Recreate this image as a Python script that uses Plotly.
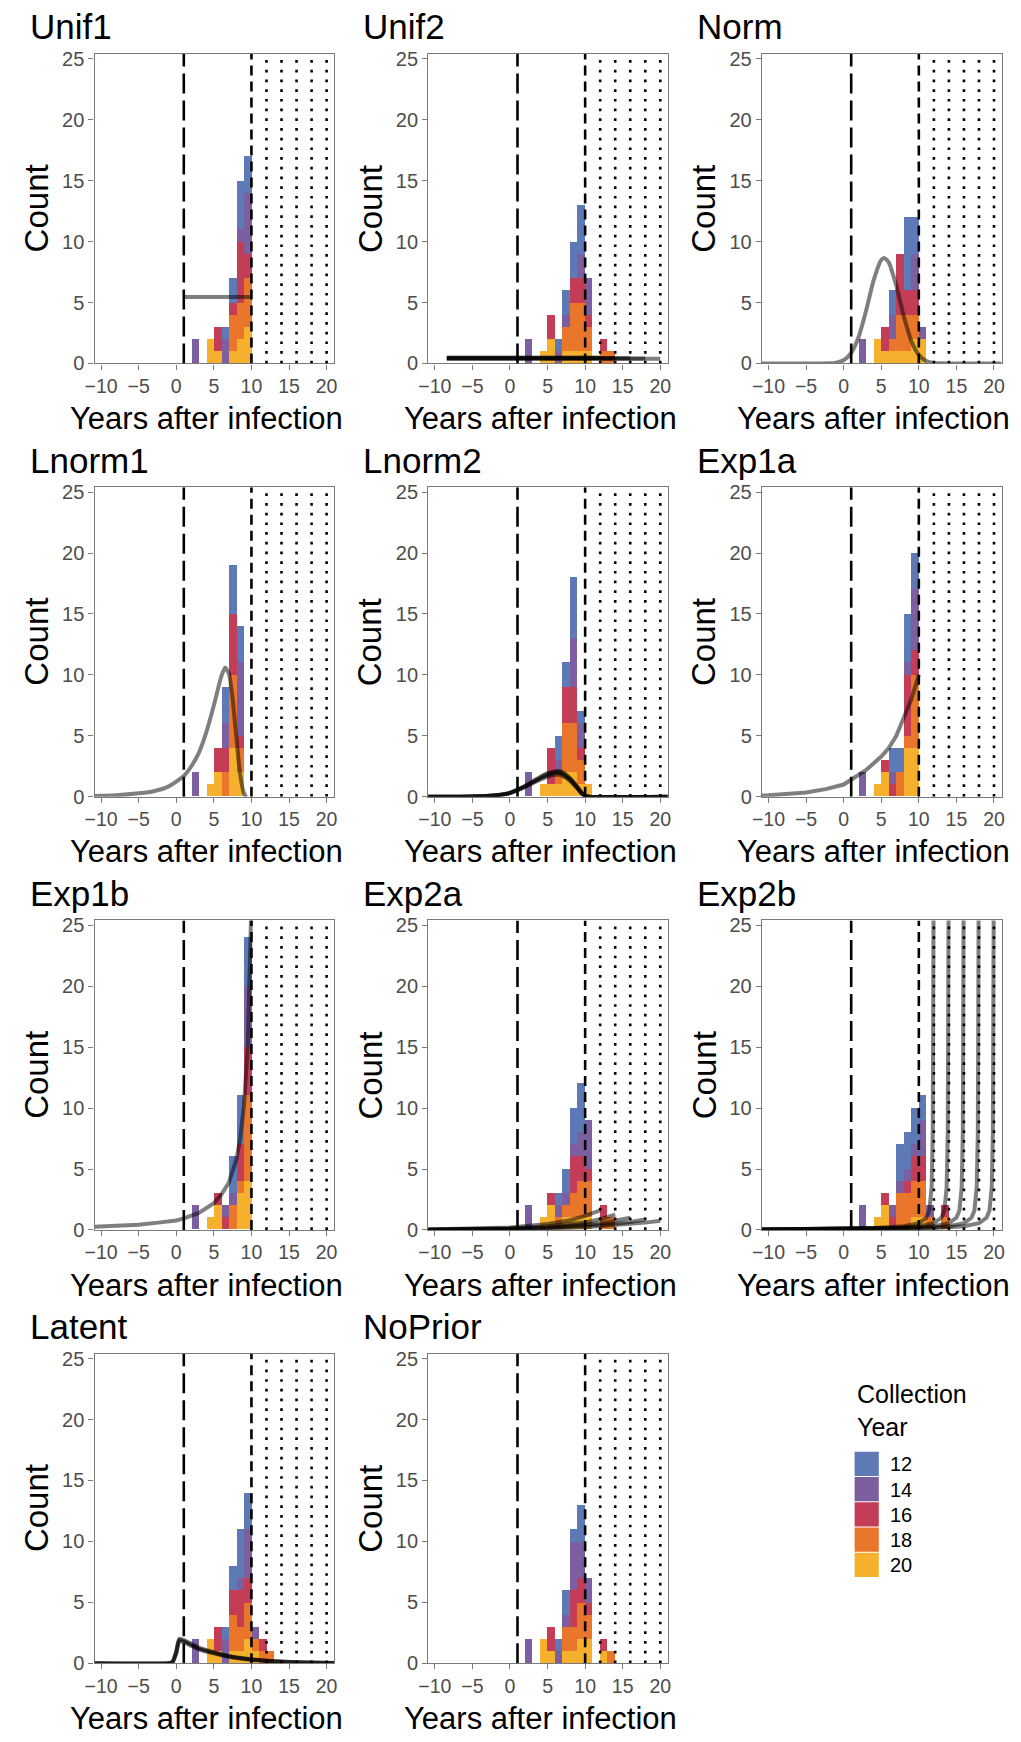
import plotly.graph_objects as go

W, H = 1021, 1742

# ---------------- data ----------------
BIN_LEFT = [2, 3, 4, 5, 6, 7, 8, 9, 10, 11, 12, 13, 14]
YEARS = ["12", "14", "16", "18", "20"]
COLORS = {"12": "#5D79B6", "14": "#7C5FA0", "16": "#C43D57", "18": "#E9762B", "20": "#F5B02D"}
PANELS = ["Unif1", "Unif2", "Norm", "Lnorm1", "Lnorm2", "Exp1a", "Exp1b", "Exp2a", "Exp2b", "Latent", "NoPrior"]

X_TICKS = [-10, -5, 0, 5, 10, 15, 20]
X_TICK_LABELS = ["\u221210", "\u22125", "0", "5", "10", "15", "20"]
Y_TICKS = [0, 5, 10, 15, 20, 25]
X_RANGE = [-10.88, 21.0]
Y_RANGE = [0, 25.4]
REF_LONG = [1]
REF_SHORT = [10]
REF_DOTTED = [12, 14, 16, 18, 20]

UNIF1 = {"20": [0, 0, 2, 1, 0, 1, 2, 3, 0, 0, 0, 0, 0],
         "18": [0, 0, 0, 0, 0, 3, 3, 4, 0, 0, 0, 0, 0],
         "16": [0, 0, 0, 2, 0, 1, 5, 2, 0, 0, 0, 0, 0],
         "14": [2, 0, 0, 0, 2, 0, 1, 5, 0, 0, 0, 0, 0],
         "12": [0, 0, 0, 0, 1, 2, 4, 3, 0, 0, 0, 0, 0]}
UNIF2 = {"20": [0, 0, 1, 2, 0, 1, 1, 1, 1, 0, 0, 0, 0],
         "18": [0, 0, 0, 0, 0, 2, 4, 4, 2, 0, 1, 1, 0],
         "16": [0, 0, 0, 2, 0, 0, 2, 2, 1, 0, 1, 0, 0],
         "14": [2, 0, 0, 0, 1, 1, 0, 2, 3, 0, 0, 0, 0],
         "12": [0, 0, 0, 0, 1, 2, 3, 4, 0, 0, 0, 0, 0]}
NORM = {"20": [0, 0, 2, 1, 1, 1, 1, 2, 2, 0, 0, 0, 0],
        "18": [0, 0, 0, 0, 1, 3, 3, 2, 0, 0, 0, 0, 0],
        "16": [0, 0, 0, 2, 0, 5, 2, 2, 0, 0, 0, 0, 0],
        "14": [2, 0, 0, 0, 2, 0, 0, 3, 1, 0, 0, 0, 0],
        "12": [0, 0, 0, 0, 2, 0, 6, 3, 0, 0, 0, 0, 0]}
LNORM1 = {"20": [0, 0, 1, 2, 0, 4, 2, 0, 0, 0, 0, 0, 0],
          "18": [0, 0, 0, 0, 2, 6, 2, 0, 0, 0, 0, 0, 0],
          "16": [0, 0, 0, 2, 2, 5, 1, 0, 0, 0, 0, 0, 0],
          "14": [2, 0, 0, 0, 2, 0, 6, 0, 0, 0, 0, 0, 0],
          "12": [0, 0, 0, 0, 3, 4, 3, 0, 0, 0, 0, 0, 0]}
LNORM2 = {"20": [0, 0, 1, 1, 1, 2, 2, 1, 1, 0, 0, 0, 0],
          "18": [0, 0, 0, 0, 1, 4, 4, 2, 0, 0, 0, 0, 0],
          "16": [0, 0, 0, 3, 0, 3, 3, 1, 0, 0, 0, 0, 0],
          "14": [2, 0, 0, 0, 1, 0, 4, 2, 0, 0, 0, 0, 0],
          "12": [0, 0, 0, 0, 2, 2, 5, 1, 0, 0, 0, 0, 0]}
EXP1A = {"20": [0, 0, 1, 2, 0, 0, 4, 4, 0, 0, 0, 0, 0],
         "18": [0, 0, 0, 0, 0, 2, 1, 6, 0, 0, 0, 0, 0],
         "16": [0, 0, 0, 1, 1, 0, 5, 2, 0, 0, 0, 0, 0],
         "14": [2, 0, 0, 0, 1, 0, 1, 5, 0, 0, 0, 0, 0],
         "12": [0, 0, 0, 0, 2, 2, 4, 3, 0, 0, 0, 0, 0]}
EXP1B = {"20": [0, 0, 1, 2, 0, 0, 3, 4, 0, 0, 0, 0, 0],
         "18": [0, 0, 0, 0, 0, 2, 1, 7, 0, 0, 0, 0, 0],
         "16": [0, 0, 0, 1, 1, 0, 3, 4, 0, 0, 0, 0, 0],
         "14": [2, 0, 0, 0, 1, 1, 0, 5, 0, 0, 0, 0, 0],
         "12": [0, 0, 0, 0, 0, 3, 4, 4, 0, 0, 0, 0, 0]}
EXP2A = {"20": [0, 0, 1, 2, 0, 1, 1, 1, 1, 0, 0, 0, 0],
         "18": [0, 0, 0, 0, 1, 1, 2, 3, 3, 0, 1, 1, 0],
         "16": [0, 0, 0, 1, 0, 0, 3, 2, 1, 0, 1, 0, 0],
         "14": [2, 0, 0, 0, 1, 1, 1, 2, 4, 0, 0, 0, 0],
         "12": [0, 0, 0, 0, 1, 2, 3, 4, 0, 0, 0, 0, 0]}
EXP2B = {"20": [0, 0, 1, 2, 0, 0, 0, 1, 1, 0, 0, 0, 0],
         "18": [0, 0, 0, 0, 0, 3, 3, 3, 3, 1, 0, 1, 0],
         "16": [0, 0, 0, 1, 1, 0, 1, 2, 2, 0, 0, 1, 0],
         "14": [2, 0, 0, 0, 1, 1, 1, 1, 3, 1, 0, 0, 0],
         "12": [0, 0, 0, 0, 0, 3, 3, 3, 2, 0, 0, 0, 0]}
LATENT = {"20": [0, 0, 2, 1, 0, 1, 1, 2, 1, 0, 0, 0, 0],
          "18": [0, 0, 0, 0, 0, 3, 2, 3, 1, 1, 1, 0, 0],
          "16": [0, 0, 0, 2, 0, 2, 3, 2, 0, 1, 0, 0, 0],
          "14": [2, 0, 0, 0, 2, 0, 1, 4, 1, 0, 0, 0, 0],
          "12": [0, 0, 0, 0, 1, 2, 4, 3, 0, 0, 0, 0, 0]}
NOPRIOR = {"20": [0, 0, 2, 1, 0, 1, 1, 2, 2, 0, 1, 0, 0],
           "18": [0, 0, 0, 0, 0, 2, 2, 3, 2, 0, 0, 1, 0],
           "16": [0, 0, 0, 2, 0, 0, 3, 2, 1, 0, 1, 0, 0],
           "14": [2, 0, 0, 0, 1, 1, 4, 3, 2, 0, 0, 0, 0],
           "12": [0, 0, 0, 0, 1, 2, 1, 3, 0, 0, 0, 0, 0]}

# prior density curves, each (x list, y list)
UNIF1_CURVES = [([1, 10], [5.45, 5.45])]
UNIF2_CURVES = [([-8.4, 12], [0.50, 0.50]), ([-8.4, 14], [0.46, 0.46]), ([-8.4, 16], [0.43, 0.43]),
                ([-8.4, 18], [0.40, 0.40]), ([-8.4, 20], [0.38, 0.38])]
NORM_CURVES = [([-11, -3, -2, -1, 0, 1, 2, 3, 4, 5, 5.4, 6, 7, 8, 9, 10, 11, 12, 13, 14, 21],
                [0, 0, 0.01, 0.07, 0.27, 0.87, 2.19, 4.36, 6.86, 8.5, 8.66, 8.3, 6.38, 3.87, 1.85, 0.7, 0.21, 0.05, 0.01, 0, 0])]
LNORM1_CURVES = [([-11, -8, -5, -3, -1, 1, 2, 3, 4, 5, 6, 6.5, 7, 7.5, 8, 8.5, 9, 9.3],
                  [0.05, 0.12, 0.28, 0.45, 0.85, 1.7, 2.5, 3.6, 5.3, 7.5, 9.9, 10.6, 10.1, 8.0, 4.8, 1.8, 0.3, 0])]
LNORM2_X = [-11, -5, -2, 0, 2, 4, 5, 6, 6.5, 7, 8, 9, 9.5, 10, 10.5, 21]
LNORM2_CURVES = [(LNORM2_X, [0, 0.02, 0.10, 0.30, 0.80, 1.40, 1.65, 1.80, 1.80, 1.70, 1.30, 0.65, 0.30, 0.06, 0, 0]),
                 (LNORM2_X, [0, 0.02, 0.10, 0.30, 0.82, 1.48, 1.75, 1.92, 1.93, 1.82, 1.38, 0.70, 0.32, 0.07, 0, 0]),
                 (LNORM2_X, [0, 0.02, 0.11, 0.32, 0.86, 1.55, 1.85, 2.02, 2.03, 1.92, 1.45, 0.74, 0.34, 0.07, 0, 0]),
                 (LNORM2_X, [0, 0.02, 0.12, 0.34, 0.90, 1.62, 1.93, 2.10, 2.12, 2.00, 1.52, 0.78, 0.36, 0.08, 0, 0])]
EXP1A_CURVES = [([-11, -10, -5, -2.4, 0, 1, 3, 5, 6, 7, 8, 9, 10],
                 [0.1, 0.12, 0.35, 0.62, 1.0, 1.4, 2.2, 3.3, 4.0, 5.0, 6.4, 8.0, 10.0])]
EXP1B_CURVES = [([-11, -10, -5, -2.4, 0, 1, 3, 5, 6, 7, 8, 8.5, 9, 9.5, 9.8, 10],
                 [0.25, 0.28, 0.42, 0.6, 0.78, 0.95, 1.4, 2.2, 2.9, 3.9, 5.8, 7.5, 10.2, 15, 21, 27])]
EXP2A_CURVES = [([-11, -5, 0, 5, 8, 10, 12], [0.03, 0.09, 0.2, 0.48, 0.8, 1.15, 1.6]),
                ([-11, -5, 0, 5, 8, 10, 12, 14], [0.02, 0.06, 0.13, 0.3, 0.45, 0.62, 0.88, 1.25]),
                ([-11, -5, 0, 5, 10, 12, 14, 16], [0.015, 0.04, 0.09, 0.2, 0.4, 0.55, 0.75, 1.0]),
                ([-11, -5, 0, 5, 10, 14, 16, 18], [0.01, 0.03, 0.07, 0.15, 0.3, 0.5, 0.65, 0.85]),
                ([-11, -5, 0, 5, 10, 15, 18, 20], [0.01, 0.025, 0.05, 0.11, 0.23, 0.42, 0.6, 0.75])]
EXP2B_CURVES = [([-11, -4, 4, 8, 10, 11, 11.4, 11.7, 11.85, 11.95, 12],
                 [0.045, 0.07, 0.15, 0.3, 0.55, 1.0, 1.6, 3.5, 8, 25, 40]),
                ([-11, -2, 6, 10, 12, 13, 13.4, 13.7, 13.85, 13.95, 14],
                 [0.04, 0.07, 0.15, 0.3, 0.55, 1.0, 1.6, 3.5, 8, 25, 40]),
                ([-11, 0, 8, 12, 14, 15, 15.4, 15.7, 15.85, 15.95, 16],
                 [0.035, 0.07, 0.15, 0.3, 0.55, 1.0, 1.6, 3.5, 8, 25, 40]),
                ([-11, 2, 10, 14, 16, 17, 17.4, 17.7, 17.85, 17.95, 18],
                 [0.032, 0.07, 0.15, 0.3, 0.55, 1.0, 1.6, 3.5, 8, 25, 40]),
                ([-11, 4, 12, 16, 18, 19, 19.4, 19.7, 19.85, 19.95, 20],
                 [0.03, 0.07, 0.15, 0.3, 0.55, 1.0, 1.6, 3.5, 8, 25, 40])]
LATENT_X = [-11, -1, -0.5, 0, 0.4, 1, 2, 3, 5, 7, 10, 13, 16, 21]
LATENT_CURVES = [(LATENT_X, [0, 0, 0.10, 0.9, 1.9, 1.8, 1.5, 1.2, 0.85, 0.55, 0.30, 0.15, 0.07, 0.02]),
                 (LATENT_X, [0, 0, 0.12, 1.0, 2.0, 1.9, 1.6, 1.28, 0.90, 0.60, 0.32, 0.16, 0.08, 0.02]),
                 (LATENT_X, [0, 0, 0.08, 0.8, 1.8, 1.72, 1.42, 1.14, 0.80, 0.52, 0.28, 0.14, 0.06, 0.02])]
NOPRIOR_CURVES = []

PANEL_BARS = [UNIF1, UNIF2, NORM, LNORM1, LNORM2, EXP1A, EXP1B, EXP2A, EXP2B, LATENT, NOPRIOR]
PANEL_CURVES = [UNIF1_CURVES, UNIF2_CURVES, NORM_CURVES, LNORM1_CURVES, LNORM2_CURVES, EXP1A_CURVES,
                EXP1B_CURVES, EXP2A_CURVES, EXP2B_CURVES, LATENT_CURVES, NOPRIOR_CURVES]
SMOOTH = {"Norm", "Lnorm1", "Lnorm2", "Latent"}

# ---------------- layout geometry (pixels) ----------------
COL_LEFT0, COL_RIGHT0, COL_STEP = 85.6, 328.3, 338.0
ROW_BOTTOM0, ROW_STEP, PANEL_H = 361.0, 437.5, 312.5

FONT = "Liberation Sans, Arial, Helvetica, sans-serif"
TICK_COLOR = "#4D4D4D"
FRAME_COLOR = "#7A7A7A"
CURVE_COLOR = "rgba(0,0,0,0.5)"

fig = go.Figure()
annotations = []
shapes = []

for i, name in enumerate(PANELS):
    r, c = divmod(i, 3)
    ax = "" if i == 0 else str(i + 1)
    xref, yref = "x" + ax, "y" + ax
    left = COL_LEFT0 + c * COL_STEP
    right = COL_RIGHT0 + c * COL_STEP
    bottom = ROW_BOTTOM0 + r * ROW_STEP
    top = bottom - PANEL_H

    bars = PANEL_BARS[i]
    for yr in ["20", "18", "16", "14", "12"]:
        xs = [b + 0.5 for b, v in zip(BIN_LEFT, bars[yr]) if v > 0]
        ys = [v for v in bars[yr] if v > 0]
        fig.add_trace(go.Bar(x=xs, y=ys, width=1.0, marker=dict(color=COLORS[yr], line=dict(width=0)),
                             xaxis=xref, yaxis=yref, showlegend=False, hoverinfo="skip"))
    for cx, cy in PANEL_CURVES[i]:
        fig.add_trace(go.Scatter(x=cx, y=cy, mode="lines",
                                 line=dict(color=CURVE_COLOR, width=4,
                                           shape="spline" if name in SMOOTH else "linear",
                                           smoothing=0.6),
                                 xaxis=xref, yaxis=yref, showlegend=False, hoverinfo="skip"))

    fig.layout["xaxis" + ax] = dict(
        domain=[left / W, right / W], anchor=yref, range=X_RANGE,
        tickmode="array", tickvals=X_TICKS, ticktext=X_TICK_LABELS,
        ticks="outside", ticklen=5, tickwidth=1.3, tickcolor=FRAME_COLOR,
        tickfont=dict(size=19.5, color=TICK_COLOR, family=FONT),
        showline=True, linecolor=FRAME_COLOR, linewidth=1.3, mirror=True,
        showgrid=False, zeroline=False, fixedrange=True)
    fig.layout["yaxis" + ax] = dict(
        domain=[1 - bottom / H, 1 - top / H], anchor=xref, range=Y_RANGE,
        tickmode="array", tickvals=Y_TICKS,
        ticks="outside", ticklen=5, tickwidth=1.3, tickcolor=FRAME_COLOR,
        tickfont=dict(size=20, color=TICK_COLOR, family=FONT),
        showline=True, linecolor=FRAME_COLOR, linewidth=1.3, mirror=True,
        showgrid=False, zeroline=False, fixedrange=True)

    for xv in REF_LONG:
        shapes.append(dict(type="line", xref=xref, yref=yref, x0=xv, x1=xv, y0=0, y1=Y_RANGE[1],
                           line=dict(color="black", width=2.6, dash="20px,7px")))
    for xv in REF_SHORT:
        shapes.append(dict(type="line", xref=xref, yref=yref, x0=xv, x1=xv, y0=0, y1=Y_RANGE[1],
                           line=dict(color="black", width=2.6, dash="10px,6px")))
    for xv in REF_DOTTED:
        shapes.append(dict(type="line", xref=xref, yref=yref, x0=xv, x1=xv, y0=0, y1=Y_RANGE[1],
                           line=dict(color="black", width=2.6, dash="2.7px,7px")))

    # panel title
    annotations.append(dict(text=name, xref="paper", yref="paper", x=(18 + c * COL_STEP) / W,
                            y=1 - (21 + r * ROW_STEP) / H, xanchor="left", yanchor="middle",
                            showarrow=False, font=dict(size=35, color="black", family=FONT)))
    # y title
    annotations.append(dict(text="Count", xref="paper", yref="paper", x=(27 + c * COL_STEP) / W,
                            y=1 - ((top + bottom) / 2) / H, xanchor="center", yanchor="middle",
                            textangle=-90, showarrow=False, font=dict(size=33, color="black", family=FONT)))
    # x title
    annotations.append(dict(text="Years after infection", xref="paper", yref="paper",
                            x=((left + right) / 2 - 8) / W, y=1 - (bottom + 36) / H,
                            xanchor="center", yanchor="top", showarrow=False,
                            font=dict(size=31, color="black", family=FONT)))

# ---------------- legend (manual) ----------------
LEG_X, LEG_SW_Y0, LEG_SW = 855.5, 1460, 25.5
annotations.append(dict(text="Collection<br>Year", xref="paper", yref="paper", x=LEG_X / W,
                        y=1 - 1418 / H, xanchor="left", yanchor="middle", align="left", showarrow=False,
                        font=dict(size=25, color="black", family=FONT)))
for j, yr in enumerate(YEARS):
    y0 = LEG_SW_Y0 + j * LEG_SW
    shapes.append(dict(type="rect", xref="paper", yref="paper", x0=LEG_X / W, x1=(LEG_X + 24.5) / W,
                       y0=1 - y0 / H, y1=1 - (y0 + LEG_SW - 1) / H,
                       fillcolor=COLORS[yr], line=dict(width=0)))
    annotations.append(dict(text=yr, xref="paper", yref="paper", x=(LEG_X + 34) / W,
                            y=1 - (y0 + LEG_SW / 2) / H, xanchor="left", yanchor="middle",
                            showarrow=False, font=dict(size=20, color="black", family=FONT)))

fig.update_layout(width=W, height=H, margin=dict(l=0, r=0, t=0, b=0),
                  paper_bgcolor="white", plot_bgcolor="white", barmode="stack", bargap=0,
                  showlegend=False, annotations=annotations, shapes=shapes,
                  font=dict(family=FONT))

fig.write_html("out.html")
